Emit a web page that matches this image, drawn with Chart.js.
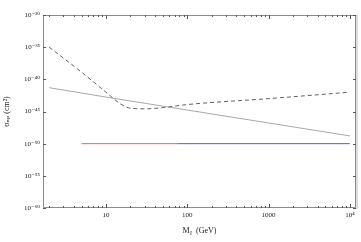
<!DOCTYPE html>
<html><head><meta charset="utf-8">
<script src="https://cdn.jsdelivr.net/npm/chart.js@4"></script>
<style>html,body{margin:0;padding:0;background:#fff}#w{width:361px;height:242px}</style>
</head><body><div id="w"><canvas id="c"></canvas></div>
<script>
// ---- data ----
const dashedMass = [2, 5, 10, 15, 20, 30, 50, 100, 1000, 10000];
const dashedSigma = [1e-35, 1.3e-39, 1e-42, 1.6e-44, 3.2e-45, 2.6e-45, 4e-45, 1.2e-44, 1e-43, 1e-42];
const solidMass = [2, 12, 10000];
const solidSigma = [5e-42, 1.2e-43, 1.6e-49];
const redMass = [5, 77];
const redSigma = [1e-50, 1e-50];
const blueMass = [77, 10000];
const blueSigma = [1e-50, 1e-50];
const xTickValues = [10, 100, 1000, 10000];
const xTickLabels = ["10", "100", "1000", "10\u2074"];
const yTickValues = [1e-60, 1e-55, 1e-50, 1e-45, 1e-40, 1e-35, 1e-30];
const yTickLabels = ["10\u207B\u2076\u2070", "10\u207B\u2075\u2075", "10\u207B\u2075\u2070", "10\u207B\u2074\u2075", "10\u207B\u2074\u2070", "10\u207B\u00B3\u2075", "10\u207B\u00B3\u2070"];
const xMinorValues = [];
[1, 10, 100, 1000].forEach(d => { for (let k = 2; k <= 9; k++) xMinorValues.push(k * d); });

const pts = (xs, ys) => xs.map((x, i) => ({x: x, y: ys[i]}));
const FONT = "'Liberation Serif', 'DejaVu Serif', serif";
const AX = '#8c8c8c';

const frame = {
  id: 'frame',
  afterDatasetsDraw(chart) {
    const {ctx, chartArea: a, scales: {x, y}} = chart;
    ctx.save();
    ctx.strokeStyle = AX; ctx.lineWidth = 1;
    ctx.beginPath();
    ctx.rect(a.left + 0.5, a.top + 0.5, a.right - a.left - 1, a.bottom - a.top - 1);
    ctx.stroke();
    ctx.strokeStyle = '#dcdcdc'; ctx.lineWidth = 2;
    ctx.beginPath(); ctx.moveTo(a.right + 1, a.top); ctx.lineTo(a.right + 1, a.bottom + 1); ctx.stroke();
    ctx.strokeStyle = '#555'; ctx.lineWidth = 1;
    ctx.beginPath();
    xTickValues.forEach(v => { const p = Math.round(x.getPixelForValue(v)) + 0.5;
      ctx.moveTo(p, a.bottom); ctx.lineTo(p, a.bottom - 4); ctx.moveTo(p, a.top); ctx.lineTo(p, a.top + 4); });
    xMinorValues.forEach(v => { if (v < x.min || v > x.max) return; const p = Math.round(x.getPixelForValue(v)) + 0.5;
      ctx.moveTo(p, a.bottom); ctx.lineTo(p, a.bottom - 2); ctx.moveTo(p, a.top); ctx.lineTo(p, a.top + 2); });
    yTickValues.forEach(v => { const p = Math.round(y.getPixelForValue(v)) + 0.5;
      ctx.moveTo(a.left, p); ctx.lineTo(a.left + 3, p); ctx.moveTo(a.right, p); ctx.lineTo(a.right - 3, p); });
    ctx.stroke();
    ctx.restore();
  }
};

new Chart(document.getElementById('c'), {
  type: 'line',
  data: { datasets: [
    { data: pts(dashedMass, dashedSigma), borderColor: '#606060', borderWidth: 1, borderDash: [4, 3], pointRadius: 0, tension: 0.3, cubicInterpolationMode: 'monotone' },
    { data: pts(solidMass, solidSigma), borderColor: '#a8a8a8', borderWidth: 1, pointRadius: 0 },
    { data: pts(redMass, redSigma), borderColor: '#ff5a5a', borderWidth: 1, pointRadius: 0 },
    { data: pts(blueMass, blueSigma), borderColor: '#5f52f0', borderWidth: 1, pointRadius: 0 }
  ]},
  plugins: [frame],
  options: {
    responsive: true, maintainAspectRatio: false, animation: false,
    layout: { padding: { left: 0, right: 5, top: 15, bottom: 0 } },
    plugins: { legend: { display: false }, tooltip: { enabled: false } },
    scales: {
      x: { type: 'logarithmic', min: 1.68, max: 11900,
        afterBuildTicks: s => { s.ticks = xTickValues.map(v => ({value: v})); },
        afterFit: s => { s.height = 34; },
        ticks: { autoSkip: false, maxRotation: 0, padding: 3, color: '#222', font: { family: FONT, size: 7 },
          callback: (v) => xTickLabels[xTickValues.indexOf(v)] },
        grid: { display: false, drawTicks: false }, border: { display: false },
        title: { display: true, text: 'M\u1D6A  (GeV)', color: '#222', font: { family: FONT, size: 8 }, padding: { top: 0, bottom: 6 } }
      },
      y: { type: 'logarithmic', min: 1e-60, max: 1e-30,
        afterBuildTicks: s => { s.ticks = yTickValues.map(v => ({value: v})); },
        afterFit: s => { s.width = 43; },
        ticks: { autoSkip: false, padding: 3, color: '#222', font: { family: FONT, size: 7 },
          callback: (v) => { const i = yTickValues.findIndex(t => Math.abs(Math.log10(t) - Math.log10(v)) < 1e-6); return yTickLabels[i]; } },
        grid: { display: false, drawTicks: false }, border: { display: false },
        title: { display: true, text: '\u03C3\u2099\u209A (cm\u00B2)', color: '#222', font: { family: FONT, size: 8 }, padding: { top: 2, bottom: 0 } }
      }
    }
  }
});
</script></body></html>
